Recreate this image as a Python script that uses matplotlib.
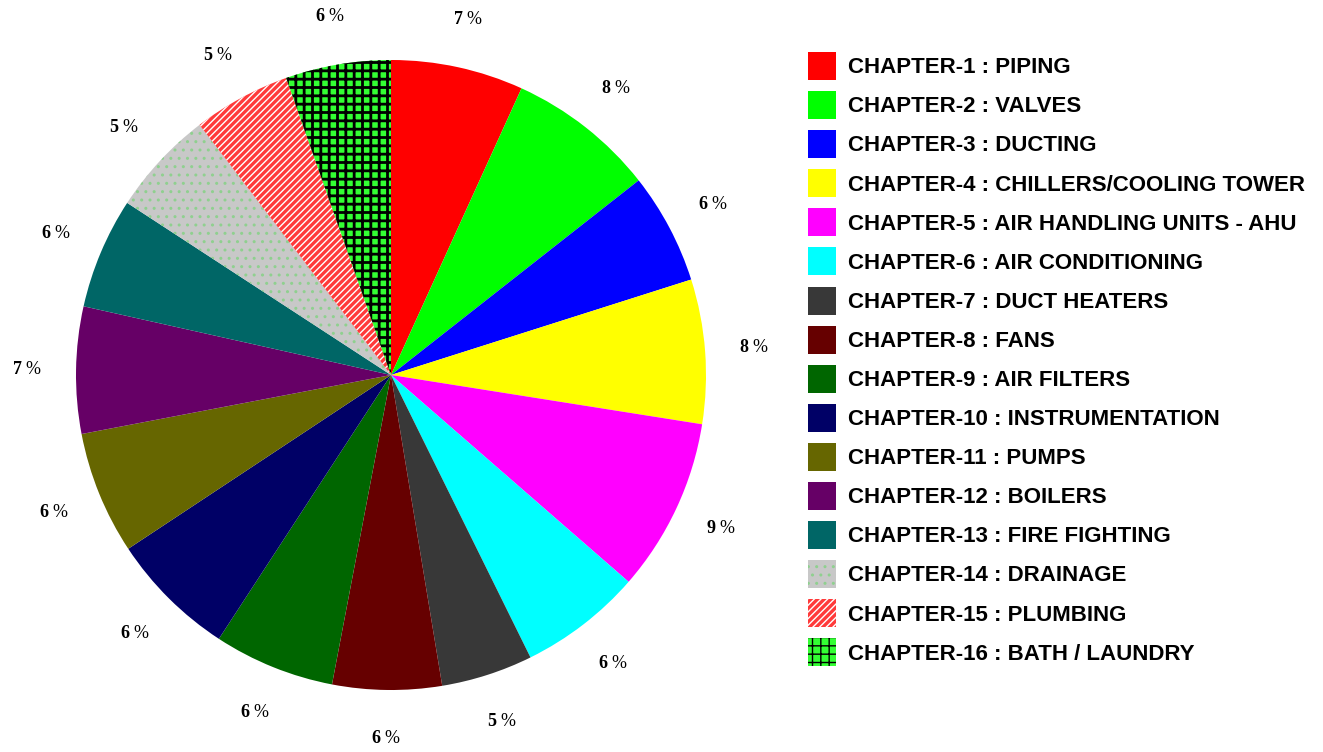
import matplotlib
matplotlib.use('Agg')
import matplotlib.pyplot as plt

plt.rcParams['mathtext.fontset'] = 'custom'
plt.rcParams['mathtext.rm'] = 'Liberation Serif'
plt.rcParams['mathtext.bf'] = 'Liberation Serif:bold'

chapters = ['CHAPTER-1 : PIPING', 'CHAPTER-2 : VALVES', 'CHAPTER-3 : DUCTING',
            'CHAPTER-4 : CHILLERS/COOLING TOWER', 'CHAPTER-5 : AIR HANDLING UNITS - AHU',
            'CHAPTER-6 : AIR CONDITIONING', 'CHAPTER-7 : DUCT HEATERS', 'CHAPTER-8 : FANS',
            'CHAPTER-9 : AIR FILTERS', 'CHAPTER-10 : INSTRUMENTATION', 'CHAPTER-11 : PUMPS',
            'CHAPTER-12 : BOILERS', 'CHAPTER-13 : FIRE FIGHTING', 'CHAPTER-14 : DRAINAGE',
            'CHAPTER-15 : PLUMBING', 'CHAPTER-16 : BATH / LAUNDRY']
# slice sizes (percent of the circle)
shares = [6.8, 7.6, 5.7, 7.4, 8.9, 6.3, 4.7, 5.6, 6.2, 6.5, 6.3, 6.5, 5.7, 5.4, 5.0, 5.4]
# percentages as printed beside each slice
pct_values = [7, 8, 6, 8, 9, 6, 5, 6, 6, 6, 6, 7, 6, 5, 5, 6]

colors = ['#ff0000', '#00ff00', '#0000ff', '#ffff00', '#ff00ff', '#00ffff', '#383838', '#660000',
          '#006600', '#000066', '#666600', '#660066', '#006666', '#c8c8c8', '#ff3a3a', '#33ff33']
hatches = [None] * 13 + ['..', '/////', '++']
hatch_colors = [None] * 13 + ['#8fd08f', '#ffffff', '#000000']

pct_labels = [r'$\mathbf{%d}$ %%' % v for v in pct_values]

fig = plt.figure(figsize=(13.23, 7.52), dpi=100)
ax = fig.add_axes([(391 - 315) / 1323, (377 - 315) / 752, 630 / 1323, 630 / 752])

wedges, texts = ax.pie(shares, labels=pct_labels, colors=colors, startangle=90,
                       counterclock=False, labeldistance=1.155,
                       wedgeprops=dict(linewidth=0),
                       textprops=dict(fontsize=13, family='Liberation Serif'))
for w, h, hc in zip(wedges, hatches, hatch_colors):
    if h:
        w.set_hatch(h)
        w.set_edgecolor(hc)
        w.set_linewidth(0)
        if hasattr(w, 'set_hatch_linewidth'):
            w.set_hatch_linewidth(2.0 if h == '++' else 1.0)
for t in texts:
    t.set_ha('center')
    t.set_va('center')
ax.set_xlim(-1, 1)
ax.set_ylim(-1, 1)
ax.set_aspect('equal')

leg = fig.legend(wedges, chapters, loc='upper left', bbox_to_anchor=(808 / 1323, 1 - 52 / 752),
                 frameon=False, borderpad=0, borderaxespad=0,
                 handlelength=1.26, handleheight=1.56, labelspacing=0.5, handletextpad=0.52,
                 prop=dict(family='Liberation Sans', weight='bold', size=16))

fig.savefig('out.png', dpi=100)
